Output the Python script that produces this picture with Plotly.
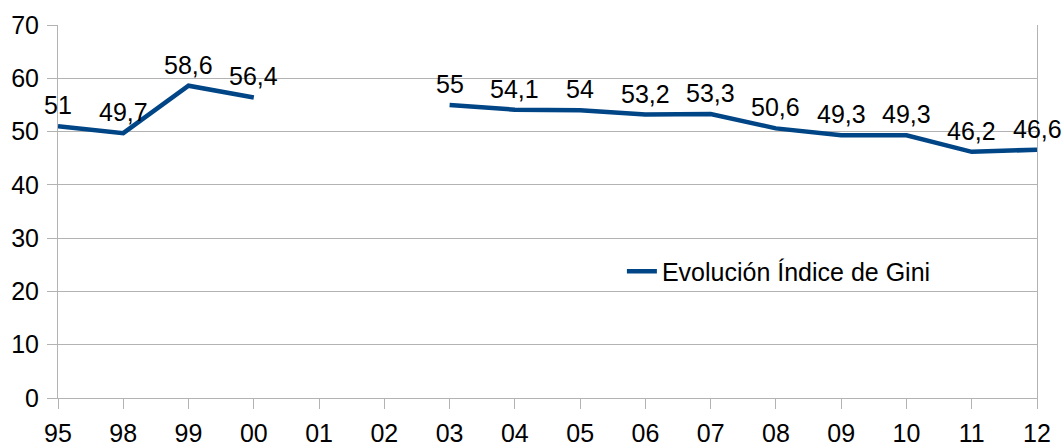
import plotly.graph_objects as go

years = ["95", "98", "99", "00", "01", "02", "03", "04", "05", "06", "07", "08", "09", "10", "11", "12"]
gini = [51, 49.7, 58.6, 56.4, None, None, 55, 54.1, 54, 53.2, 53.3, 50.6, 49.3, 49.3, 46.2, 46.6]
series_name = "Evolución Índice de Gini"
y_ticks = [0, 10, 20, 30, 40, 50, 60, 70]


def fmt(v):
    s = ("%.1f" % v).rstrip("0").rstrip(".")
    return s.replace(".", ",")


FONT = "Liberation Sans, Arial, sans-serif"
COLOR = "#004586"
GRID = "#b3b3b3"

fig = go.Figure()
fig.add_trace(go.Scatter(
    x=years, y=gini, name=series_name, mode="lines",
    line=dict(color=COLOR, width=4.5), connectgaps=False,
))

for i, yv in enumerate(gini):
    if yv is None:
        continue
    fig.add_annotation(x=i, y=yv, text=fmt(yv), showarrow=False,
                       xanchor="center", yanchor="middle", yshift=21,
                       font=dict(family=FONT, size=25, color="#000000"))

fig.update_layout(
    width=1064, height=447,
    margin=dict(l=58, r=27, t=25, b=49),
    paper_bgcolor="white", plot_bgcolor="white",
    font=dict(family=FONT, size=25, color="#000000"),
    showlegend=True,
    legend=dict(x=0.576, y=0.339, xanchor="left", yanchor="middle",
                bgcolor="rgba(0,0,0,0)", font=dict(family=FONT, size=25)),
    xaxis=dict(type="category", range=[0, len(years) - 1], automargin=False,
               showgrid=False, ticks="outside", ticklen=10, tickcolor=GRID,
               showline=True, linecolor=GRID, linewidth=1, zeroline=False,
               ticklabelstandoff=3,
               tickfont=dict(family=FONT, size=25)),
    yaxis=dict(range=[0, 70], tickvals=y_ticks, showgrid=True, gridcolor=GRID,
               automargin=False,
               ticks="outside", ticklen=10, tickcolor=GRID, ticklabelstandoff=3,
               showline=True, linecolor=GRID, mirror=True, zeroline=False,
               tickfont=dict(family=FONT, size=25)),
)

fig.write_html("out.html", config={"displayModeBar": False},
               post_script="document.body.style.margin='0';document.body.style.padding='0';")
